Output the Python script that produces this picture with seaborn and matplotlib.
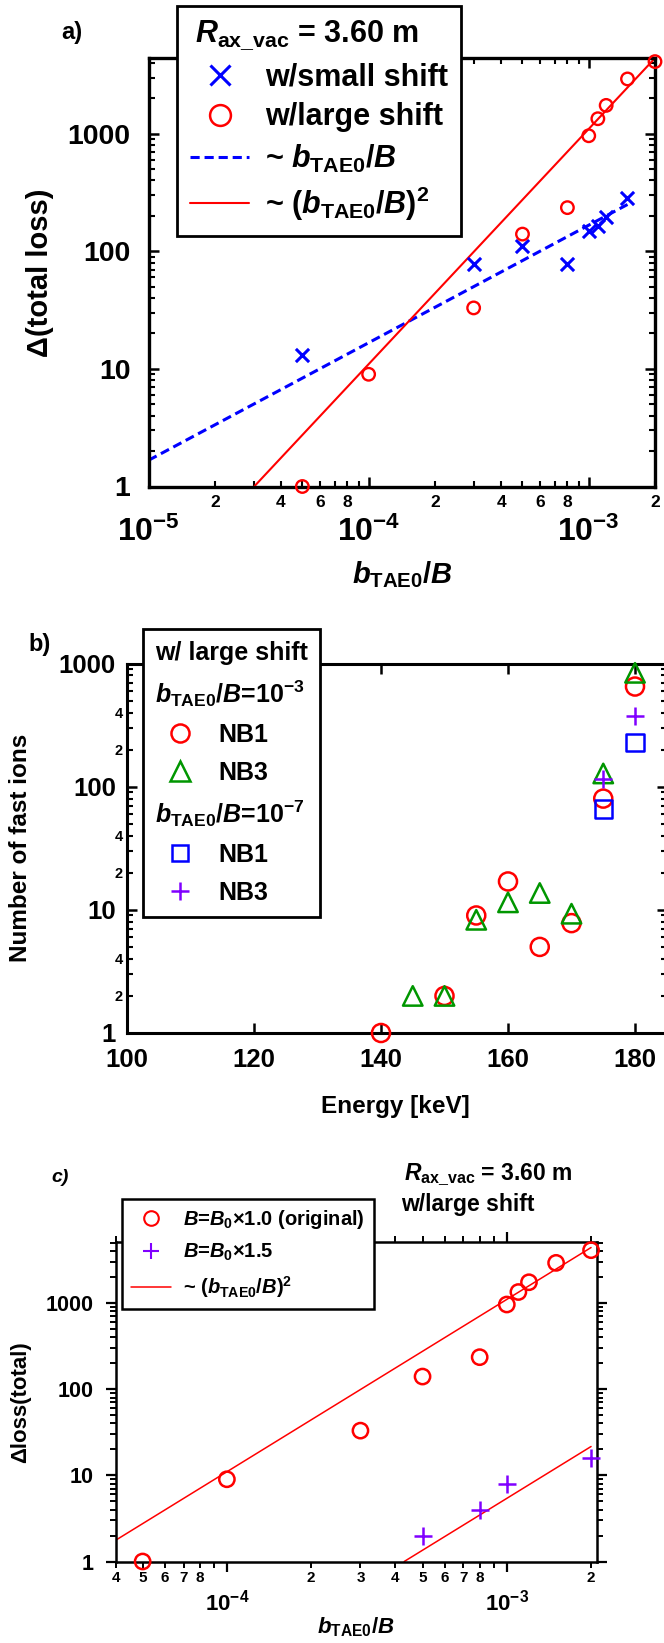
import numpy as np
import matplotlib
matplotlib.use("Agg")
import matplotlib.pyplot as plt
import seaborn as sns
from matplotlib.lines import Line2D
from matplotlib.ticker import LogLocator, FixedLocator, FuncFormatter, NullFormatter, NullLocator

# ---------------- data ----------------
# panel a
btae_small = [5e-5, 3e-4, 5e-4, 8e-4, 1.0e-3, 1.1e-3, 1.2e-3, 1.5e-3]
loss_small = [13, 78, 110, 78, 148, 165, 195, 285]
btae_large = [5e-5, 1e-4, 3e-4, 5e-4, 8e-4, 1.0e-3, 1.1e-3, 1.2e-3, 1.5e-3, 2.0e-3]
loss_large = [1, 9, 33, 140, 235, 960, 1340, 1740, 2920, 4100]
fit_lin_x = [1e-5, 1.5e-3]
fit_lin_y = [1.67, 250]
fit_sq_x = [3.02e-5, 2e-3]
fit_sq_y = [1.0, 4390]
# panel b
nb1_e3_energy = [140, 150, 155, 160, 165, 170, 175, 180]
nb1_e3 = [1, 2, 9, 17, 5, 7.8, 80, 650]
nb3_e3_energy = [145, 150, 155, 160, 165, 170, 175, 180]
nb3_e3 = [2, 2, 8.3, 11.5, 13.7, 9.3, 128, 840]
e7_energy = [175, 180]
nb1_e7 = [66, 229]
nb3_e7 = [115, 378]
energy_ticks = [100, 120, 140, 160, 180]
# panel c
btae_b15 = [5e-4, 8e-4, 1e-3, 2e-3]
loss_b15 = [2, 4, 8, 16]
fit_c1_x = [4e-5, 2e-3]
fit_c1_y = [1.76, 4400]
fit_c2_x = [4.3e-4, 2e-3]
fit_c2_y = [1.0, 21.6]

# ---------------- style ----------------
sns.set_style("ticks")
FONT = "Liberation Sans"
plt.rcParams.update({
    "font.family": [FONT, "DejaVu Sans"],
    "font.weight": "bold",
    "axes.labelweight": "bold",
    "mathtext.fontset": "custom",
    "mathtext.rm": f"{FONT}:bold",
    "mathtext.it": f"{FONT}:italic:bold",
    "mathtext.bf": f"{FONT}:bold",
    "mathtext.sf": f"{FONT}:bold",
    "text.color": "black",
    "axes.labelcolor": "black",
    "axes.edgecolor": "black",
    "xtick.color": "black",
    "ytick.color": "black",
})

RED = "#FF0000"
BLUE = "#0000FF"
GREEN = "#009600"
PURPLE = "#8000FF"

W, H = 664, 1643
fig = plt.figure(figsize=(W / 100, H / 100), dpi=100)


def ax_at(left, top, right, bottom):
    return fig.add_axes([left / W, 1 - bottom / H, (right - left) / W, (bottom - top) / H])


def mant(v):
    e = np.floor(np.log10(v) + 1e-9)
    return int(round(v / 10 ** e))


def minor_fmt(keep):
    return FuncFormatter(lambda v, p: str(mant(v)) if mant(v) in keep else "")


major_pow = FuncFormatter(lambda v, p: r"$10^{%d}$" % int(round(np.log10(v))))
major_int = FuncFormatter(lambda v, p: "%d" % int(round(v)))


def fix_headers(leg, idx, indent):
    rows = [r for col in leg._legend_handle_box.get_children() for r in col.get_children()]
    for i in idx:
        hb = rows[i].get_children()[0]
        hb.width = indent
        rows[i].sep = 0


blank = Line2D([], [], color="none", linestyle="none")
btae_lab = r"$b_{\mathrm{TAE0}}/B$"

# ================= panel a =================
ax = ax_at(148.5, 58, 655, 486.5)
sns.lineplot(x=fit_lin_x, y=fit_lin_y, ax=ax, color=BLUE, linestyle=(0, (3, 1.6)), linewidth=2.2)
sns.lineplot(x=fit_sq_x, y=fit_sq_y, ax=ax, color=RED, linewidth=1.5)
sns.scatterplot(x=btae_small, y=loss_small, ax=ax, marker="x", s=9.5 ** 2, color=BLUE,
                linewidth=2.2, clip_on=False, zorder=3)
sns.scatterplot(x=btae_large, y=loss_large, ax=ax, marker="o", s=9 ** 2, color=RED,
                facecolor="none", edgecolor=RED, linewidth=1.7, clip_on=False, zorder=3)
ax.set_xscale("log")
ax.set_yscale("log")
ax.set_xlim(1e-5, 2e-3)
ax.set_ylim(1, 4400)
ax.xaxis.set_major_locator(LogLocator(base=10, numticks=20))
ax.xaxis.set_minor_locator(LogLocator(base=10, subs=np.arange(2, 10), numticks=20))
ax.xaxis.set_major_formatter(major_pow)
ax.xaxis.set_minor_formatter(minor_fmt({2, 4, 6, 8}))
ax.yaxis.set_major_locator(LogLocator(base=10, numticks=20))
ax.yaxis.set_minor_locator(LogLocator(base=10, subs=np.arange(2, 10), numticks=20))
ax.yaxis.set_major_formatter(major_int)
ax.yaxis.set_minor_formatter(NullFormatter())
ax.tick_params(which="both", direction="in", top=True, right=True)
ax.tick_params(which="major", length=7.5, width=1.8)
ax.tick_params(which="minor", length=4, width=1.5)
ax.tick_params(axis="x", which="major", labelsize=23, pad=22)
ax.tick_params(axis="x", which="minor", labelsize=12.5, pad=6)
ax.tick_params(axis="y", which="major", labelsize=20.5, pad=13)
for s in ax.spines.values():
    s.set_linewidth(2.4)
ax.set_xlabel(btae_lab, fontsize=21)
ax.xaxis.label.set_va("center")
ax.xaxis.set_label_coords(0.5005, -0.205)
ax.set_ylabel("Δ(total loss)", fontsize=21)
ax.yaxis.label.set_va("center")
ax.yaxis.set_label_coords(-0.214, 0.498)

h_a = [blank,
       Line2D([], [], marker="x", color=BLUE, linestyle="none", ms=15, mew=2.2),
       Line2D([], [], marker="o", mfc="none", mec=RED, linestyle="none", ms=15, mew=1.8),
       Line2D([], [], color=BLUE, linestyle=(0, (3, 1.6)), linewidth=2.2),
       Line2D([], [], color=RED, linewidth=1.5)]
l_a = [r"$R_{\mathrm{ax\_vac}}$ = 3.60 m", "w/small shift", "w/large shift",
       "~ " + btae_lab, r"~ $(b_{\mathrm{TAE0}}/B)^2$"]
leg = ax.legend(h_a, l_a, loc="upper left", bbox_to_anchor=(177 / W, 1 - 6 / H),
                bbox_transform=fig.transFigure, borderaxespad=0, frameon=True, fancybox=False,
                edgecolor="black", framealpha=1, borderpad=0.42, handlelength=1.95,
                handletextpad=0.5, labelspacing=0.33, numpoints=1,
                prop={"size": 22, "weight": "bold"})
leg.get_frame().set_linewidth(2)
fix_headers(leg, [0], 3.6)

# ================= panel b =================
ax = ax_at(127, 663.5, 666.75, 1033)
sns.scatterplot(x=nb1_e3_energy, y=nb1_e3, ax=ax, marker="o", s=13 ** 2, color=RED,
                facecolor="none", edgecolor=RED, linewidth=1.8, clip_on=False, zorder=3)
sns.scatterplot(x=nb3_e3_energy, y=nb3_e3, ax=ax, marker="^", s=14 ** 2, color=GREEN,
                facecolor="none", edgecolor=GREEN, linewidth=1.8, clip_on=False, zorder=3)
sns.scatterplot(x=e7_energy, y=nb1_e7, ax=ax, marker="s", s=12.5 ** 2, color=BLUE,
                facecolor="none", edgecolor=BLUE, linewidth=1.8, clip_on=False, zorder=3)
sns.scatterplot(x=e7_energy, y=nb3_e7, ax=ax, marker="+", s=13.5 ** 2, color=PURPLE,
                linewidth=1.8, clip_on=False, zorder=3)
ax.set_yscale("log")
ax.set_xlim(100, 185)
ax.set_ylim(1, 1000)
ax.xaxis.set_major_locator(FixedLocator(energy_ticks))
ax.xaxis.set_minor_locator(NullLocator())
ax.xaxis.set_major_formatter(major_int)
ax.yaxis.set_major_locator(LogLocator(base=10, numticks=20))
ax.yaxis.set_minor_locator(LogLocator(base=10, subs=np.arange(2, 10), numticks=20))
ax.yaxis.set_major_formatter(major_int)
ax.yaxis.set_minor_formatter(minor_fmt({2, 4}))
ax.tick_params(which="both", direction="in", top=True, right=True)
ax.tick_params(which="major", length=7.5, width=1.8)
ax.tick_params(which="minor", length=4, width=1.5)
ax.tick_params(axis="x", which="major", labelsize=18.5, pad=11)
ax.tick_params(axis="y", which="major", labelsize=18.5, pad=8)
ax.tick_params(axis="y", which="minor", labelsize=10.5, pad=3)
for s in ax.spines.values():
    s.set_linewidth(2.2)
ax.set_xlabel("Energy [keV]", fontsize=17.5)
ax.xaxis.label.set_va("center")
ax.xaxis.set_label_coords(0.498, -0.2)
ax.set_ylabel("Number of fast ions", fontsize=17.5)
ax.yaxis.label.set_va("center")
ax.yaxis.set_label_coords(-0.198, 0.5)

h_b = [blank, blank,
       Line2D([], [], marker="o", mfc="none", mec=RED, linestyle="none", ms=13, mew=1.8),
       Line2D([], [], marker="^", mfc="none", mec=GREEN, linestyle="none", ms=14, mew=1.8),
       blank,
       Line2D([], [], marker="s", mfc="none", mec=BLUE, linestyle="none", ms=12, mew=1.8),
       Line2D([], [], marker="+", color=PURPLE, linestyle="none", ms=13.5, mew=1.8)]
l_b = ["w/ large shift", btae_lab + "=10$^{-3}$", "NB1", "NB3",
       btae_lab + "=10$^{-7}$", "NB1", "NB3"]
leg = ax.legend(h_b, l_b, loc="upper left", bbox_to_anchor=(143 / W, 1 - 629 / H),
                bbox_transform=fig.transFigure, borderaxespad=0, frameon=True, fancybox=False,
                edgecolor="black", framealpha=1, borderpad=0.48, handlelength=2.0,
                handletextpad=0.52, labelspacing=0.55, numpoints=1,
                prop={"size": 18, "weight": "bold"})
leg.get_frame().set_linewidth(2)
fix_headers(leg, [0, 1, 4], 0)

# ================= panel c =================
ax = ax_at(115.5, 1242, 597, 1561.5)
sns.lineplot(x=fit_c1_x, y=fit_c1_y, ax=ax, color=RED, linewidth=1.1)
sns.lineplot(x=fit_c2_x, y=fit_c2_y, ax=ax, color=RED, linewidth=1.1)
sns.scatterplot(x=btae_large, y=loss_large, ax=ax, marker="o", s=11 ** 2, color=RED,
                facecolor="none", edgecolor=RED, linewidth=1.8, clip_on=False, zorder=3)
sns.scatterplot(x=btae_b15, y=loss_b15, ax=ax, marker="+", s=13 ** 2, color=PURPLE,
                linewidth=1.8, clip_on=False, zorder=3)
ax.set_xscale("log")
ax.set_yscale("log")
ax.set_xlim(4e-5, 2.1e-3)
ax.set_ylim(1, 5100)
ax.xaxis.set_major_locator(LogLocator(base=10, numticks=20))
ax.xaxis.set_minor_locator(LogLocator(base=10, subs=np.arange(2, 10), numticks=20))
ax.xaxis.set_major_formatter(major_pow)
ax.xaxis.set_minor_formatter(minor_fmt({2, 3, 4, 5, 6, 7, 8}))
ax.yaxis.set_major_locator(LogLocator(base=10, numticks=20))
ax.yaxis.set_minor_locator(LogLocator(base=10, subs=np.arange(2, 10), numticks=20))
ax.yaxis.set_major_formatter(major_int)
ax.yaxis.set_minor_formatter(NullFormatter())
ax.tick_params(which="both", direction="out", top=True, right=True)
ax.tick_params(which="major", length=7.5, width=1.6)
ax.tick_params(which="minor", length=4, width=1.4)
ax.tick_params(axis="x", which="major", labelsize=16, pad=13)
ax.tick_params(axis="x", which="minor", labelsize=11, pad=3)
ax.tick_params(axis="y", which="major", labelsize=15.5, pad=8)
for s in ax.spines.values():
    s.set_linewidth(1.8)
ax.set_xlabel(btae_lab, fontsize=16)
ax.xaxis.label.set_va("center")
ax.xaxis.set_label_coords(0.4995, -0.205)
ax.set_ylabel("Δloss(total)", fontsize=16)
ax.yaxis.label.set_va("center")
ax.yaxis.set_label_coords(-0.198, 0.499)

h_c = [Line2D([], [], marker="o", mfc="none", mec=RED, linestyle="none", ms=10.5, mew=1.5),
       Line2D([], [], marker="+", color=PURPLE, linestyle="none", ms=11, mew=1.5),
       Line2D([], [], color=RED, linewidth=1.1)]
l_c = [r"$B$=$B_0$×1.0 (original)", r"$B$=$B_0$×1.5", r"~ $(b_{\mathrm{TAE0}}/B)^2$"]
leg = ax.legend(h_c, l_c, loc="upper left", bbox_to_anchor=(122 / W, 1 - 1199 / H),
                bbox_transform=fig.transFigure, borderaxespad=0, frameon=True, fancybox=False,
                edgecolor="black", framealpha=1, borderpad=0.45, handlelength=2.0,
                handletextpad=0.6, labelspacing=0.55, numpoints=1,
                prop={"size": 14.5, "weight": "bold"})
leg.get_frame().set_linewidth(1.8)

# ---------------- panel tags / annotations ----------------
fig.text(72 / W, 1 - 33 / H, "a)", fontsize=17, ha="center", va="center")
fig.text(40 / W, 1 - 645 / H, "b)", fontsize=17, ha="center", va="center")
fig.text(60 / W, 1 - 1177 / H, "c)", fontsize=14, style="italic", ha="center", va="center")
fig.text(404 / W, 1 - 1175 / H, r"$R_{\mathrm{ax\_vac}}$ = 3.60 m", fontsize=16.5, ha="left", va="center")
fig.text(401 / W, 1 - 1205 / H, "w/large shift", fontsize=16.5, ha="left", va="center")

fig.savefig("out.png", dpi=100)
